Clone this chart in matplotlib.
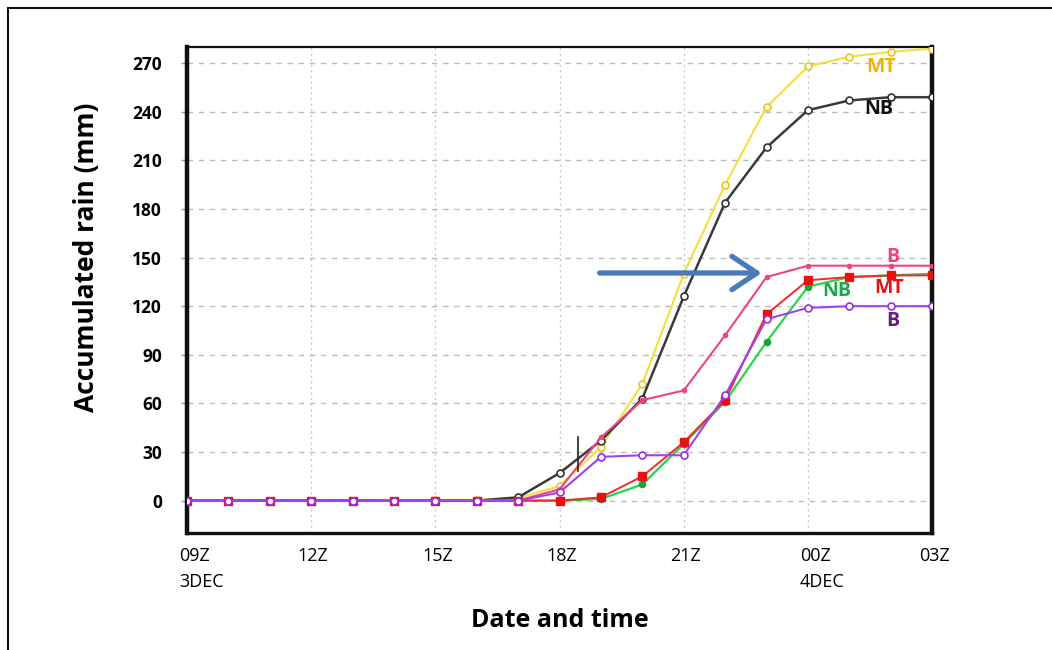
import matplotlib.pyplot as plt
from matplotlib.patches import FancyArrowPatch

# hours after 09Z 3 DEC
hours = list(range(19))
tick_hours = [0, 3, 6, 9, 12, 15, 18]
tick_labels = ["09Z\n3DEC", "12Z", "15Z", "18Z", "21Z", "00Z\n4DEC", "03Z"]
y_ticks = [0, 30, 60, 90, 120, 150, 180, 210, 240, 270]

mt_yellow = [0, 0, 0, 0, 0, 0, 0.5, 0.5, 1.5, 9, 33, 72, 140, 195, 243, 268, 274, 277, 279]
nb_black = [0, 0, 0, 0, 0, 0, 0, 0, 2, 17, 37, 63, 126, 184, 218, 241, 247, 249, 249]
b_pink = [0, 0, 0, 0, 0, 0, 0, 0, 0, 7, 39, 62, 68, 102, 138, 145, 145, 145, 145]
mt_red = [0, 0, 0, 0, 0, 0, 0, 0, 0, 0, 2, 15, 36, 62, 115, 136, 138, 139, 139]
nb_green = [0, 0, 0, 0, 0, 0, 0, 0, 0, 0, 1, 10, 35, 61, 98, 132, 138, 139, 140]
b_purple = [0, 0, 0, 0, 0, 0, 0, 0, 0, 5, 27, 28, 28, 65, 112, 119, 120, 120, 120]

arrow_x = [9.9, 13.95]
arrow_y = 140.5
marker_x = 9.44
marker_y = [18, 39]

plt.rcParams['font.family'] = ['Open Sans', 'DejaVu Sans']

fig = plt.figure(figsize=(10.52, 6.5), dpi=100)
ax = fig.add_axes([0.1778, 0.180, 0.7082, 0.7477])

ax.plot(hours, mt_yellow, color='#f3e03a', lw=1.5, marker='o', ms=5,
        mfc='white', mec='#e8c820', mew=1.2, zorder=3)
ax.plot(hours, nb_black, color='#3a3a3a', lw=1.8, marker='o', ms=5,
        mfc='white', mec='#333333', mew=1.2, zorder=3)
ax.plot(hours, b_pink, color='#f0447e', lw=1.5, marker='o', ms=3,
        mfc='#f0447e', mec='#f0447e', zorder=4)
ax.plot(hours, nb_green, color='#2bd34a', lw=1.6, marker='o', ms=4.5,
        mfc='#1aa53a', mec='#1aa53a', zorder=4)
ax.plot(hours, mt_red, color='#ee2a2a', lw=1.4, marker='s', ms=5.5,
        mfc='#e81010', mec='#e81010', zorder=5)
ax.plot(hours, b_purple, color='#a040f0', lw=1.5, marker='o', ms=5,
        mfc='white', mec='#9a30e0', mew=1.2, zorder=5)

ax.plot([marker_x, marker_x], marker_y, color='#222222', lw=1.2, zorder=6)

arrow = FancyArrowPatch((arrow_x[0], arrow_y), (arrow_x[1], arrow_y),
                        arrowstyle='->,head_length=1.5,head_width=1.0',
                        color='#4a7ab8', lw=3.8, mutation_scale=12, zorder=7)
ax.add_patch(arrow)

# series labels at the right end
lab_kw = dict(fontsize=14, fontweight='bold', va='center')
ax.text(16.4, 267.5, "MT", color='#f0b400', **lab_kw)
ax.text(16.35, 241.5, "NB", color='#111111', **lab_kw)
ax.text(16.9, 150.5, "B", color='#f0408a', **lab_kw)
ax.text(15.35, 129.4, "NB", color='#1aa84a', **lab_kw)
ax.text(16.6, 131.3, "MT", color='#e81010', **lab_kw)
ax.text(16.9, 110.8, "B", color='#6a1b7a', **lab_kw)

ax.set_xlim(0, 18)
ax.set_ylim(-20, 280)

# x tick labels: two-line ones sit left-aligned just before their tick
ax.set_xticks(tick_hours)
ax.set_xticklabels([])
for h, txt in zip(tick_hours, tick_labels):
    two_line = "\n" in txt
    ax.annotate(txt, xy=(h, 0), xycoords=ax.get_xaxis_transform(),
                xytext=(-8 if two_line else 2, -14), textcoords='offset pixels',
                ha='left' if two_line else 'center', va='top',
                fontsize=13, linespacing=1.55, annotation_clip=False)

ax.set_yticks(y_ticks)
ax.set_yticklabels([str(v) for v in y_ticks], fontsize=12.5, fontweight='bold')

ax.tick_params(axis='x', length=0)
ax.tick_params(axis='y', length=4, width=1, color='#999999', pad=14)

ax.grid(axis='y', color='#bcbcbc', ls=(0, (4, 4)), lw=1)
ax.grid(axis='x', color='#c8c8c8', ls=(0, (1.5, 2.5)), lw=1)

for side, w in [('left', 3.2), ('bottom', 2.4), ('right', 3.2), ('top', 1.6)]:
    ax.spines[side].set_linewidth(w)
    ax.spines[side].set_color('#111111')

ax.set_ylabel("Accumulated rain (mm)", fontsize=19, fontweight='bold')
ax.yaxis.set_label_coords(-0.117, 0.568)
ax.set_xlabel("Date and time", fontsize=18, fontweight='bold')
ax.xaxis.set_label_coords(0.5, -0.154)

# outer frame
fig.add_artist(plt.Line2D([0.0076, 0.0076], [0, 0.988], color='#111111', lw=1.5,
                          transform=fig.transFigure))
fig.add_artist(plt.Line2D([0.0076, 1.0], [0.988, 0.988], color='#111111', lw=1.5,
                          transform=fig.transFigure))

fig.savefig("out.png", dpi=100)
